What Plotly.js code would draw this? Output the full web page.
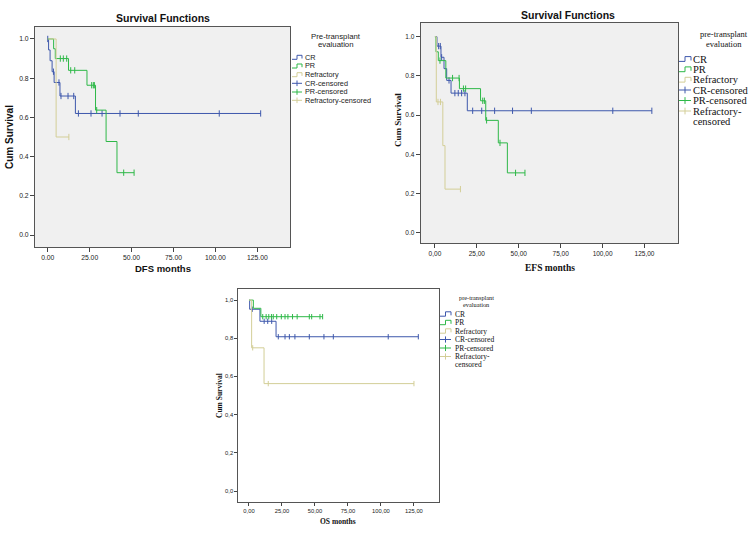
<!DOCTYPE html>
<html><head><meta charset="utf-8">
<script src="https://cdn.plot.ly/plotly-3.0.1.min.js"></script>
<style>html,body{margin:0;padding:0;background:#fff}#c{width:755px;height:533px}</style>
</head><body><div id="c"></div>
<script>
// ---------- DATA ----------
// DFS panel
const dfsCR_t = [0, 0.5, 1.4, 2.6, 3.8, 7.3, 16.5];
const dfsCR_s = [1, 0.944, 0.889, 0.833, 0.778, 0.709, 0.62];
const dfsCR_ct = [0, 3.4, 6.7, 7.9, 12.1, 15.5, 18.3, 25.8, 32.4, 43.1, 54.0, 102.3, 127.0];
const dfsCR_cs = [1, 0.833, 0.778, 0.709, 0.709, 0.709, 0.62, 0.62, 0.62, 0.62, 0.62, 0.62, 0.62];
const dfsPR_t = [0, 3.5, 4.5, 12.4, 23.4, 28.5, 34.8, 41.3];
const dfsPR_s = [1, 0.95, 0.90, 0.84, 0.764, 0.637, 0.477, 0.318];
const dfsPR_ct = [7.5, 9.3, 11.3, 13.7, 16.1, 26.2, 27.2, 27.8, 29.2, 45.3, 51.5];
const dfsPR_cs = [0.9, 0.9, 0.9, 0.84, 0.84, 0.764, 0.764, 0.764, 0.637, 0.318, 0.318];
const dfsRef_t = [0, 5.0];
const dfsRef_s = [1, 0.5];
const dfsRef_ct = [12.6];
const dfsRef_cs = [0.5];
// EFS panel
const efsCR_t = [0, 1.2, 3.6, 5.4, 7.0, 9.6, 19.3];
const efsCR_s = [1, 0.952, 0.895, 0.837, 0.777, 0.712, 0.622];
const efsCR_ct = [2.2, 3.2, 4.0, 8.4, 11.9, 13.9, 15.9, 17.9, 22.5, 27.9, 35.6, 46.3, 57.5, 106.1, 129.4];
const efsCR_cs = [0.952, 0.952, 0.895, 0.777, 0.712, 0.712, 0.712, 0.712, 0.622, 0.622, 0.622, 0.622, 0.622, 0.622, 0.622];
const efsPR_t = [0, 0.6, 2.0, 6.5, 14.6, 27.2, 30.3, 37.8, 43.2];
const efsPR_s = [1, 0.923, 0.878, 0.789, 0.735, 0.673, 0.573, 0.458, 0.305];
const efsPR_ct = [3.0, 10.5, 14.4, 17.0, 18.3, 28.5, 29.5, 30.8, 38.8, 48.1, 53.7];
const efsPR_cs = [0.878, 0.789, 0.789, 0.735, 0.735, 0.673, 0.673, 0.573, 0.458, 0.305, 0.305];
const efsRef_t = [0, 0.8, 4.7, 6.0];
const efsRef_s = [1, 0.667, 0.444, 0.222];
const efsRef_ct = [1.8, 3.3, 15.2];
const efsRef_cs = [0.667, 0.667, 0.222];
// OS panel
const osCR_t = [0, 0.5, 8.3, 20.5];
const osCR_s = [1, 0.952, 0.889, 0.808];
const osCR_ct = [2.5, 11.5, 14.2, 17.2, 22.2, 27.3, 30.6, 34.8, 45.7, 56.8, 63.9, 105.5, 128.3];
const osCR_cs = [0.952, 0.889, 0.889, 0.889, 0.808, 0.808, 0.808, 0.808, 0.808, 0.808, 0.808, 0.808, 0.808];
const osPR_t = [0, 3.3, 9.0];
const osPR_s = [1, 0.957, 0.913];
const osPR_ct = [10.4, 13.0, 15.0, 17.0, 18.4, 21.0, 24.5, 27.3, 29.5, 33.0, 36.5, 45.7, 47.5, 53.8, 55.8];
const osPR_cs = [0.913, 0.913, 0.913, 0.913, 0.913, 0.913, 0.913, 0.913, 0.913, 0.913, 0.913, 0.913, 0.913, 0.913, 0.913];
const osRef_t = [0, 2.0, 11.4];
const osRef_s = [1, 0.75, 0.5625];
const osRef_ct = [2.8, 14.6, 125.0];
const osRef_cs = [0.75, 0.5625, 0.5625];

// tick labels
const xTickVals = [0, 25, 50, 75, 100, 125];
const yTickVals = [0, 0.2, 0.4, 0.6, 0.8, 1.0];
const dfsXLabels = ['0.00', '25.00', '50.00', '75.00', '100.00', '125.00'];
const dfsYLabels = ['0.0', '0.2', '0.4', '0.6', '0.8', '1.0'];
const efsXLabels = ['0,00', '25,00', '50,00', '75,00', '100,00', '125,00'];
const efsYLabels = ['0.0', '0.2', '0.4', '0.6', '0.8', '1.0'];
const osXLabels = ['0,00', '25,00', '50,00', '75,00', '100,00', '125,00'];
const osYLabels = ['0,0', '0,2', '0,4', '0,6', '0,8', '1,0'];

const groups = ['CR', 'PR', 'Refractory'];
const legendLabels = ['CR', 'PR', 'Refractory', 'CR-censored', 'PR-censored', 'Refractory-censored'];

// ---------- STYLE ----------
const W = 755, H = 533;
const fx = p => p / W;
const fy = p => 1 - p / H;
const COLORS = ['rgb(62,88,172)', 'rgb(46,184,72)', 'rgb(211,206,151)'];
const SANS = 'Liberation Sans, Arial, sans-serif';
const SERIF = 'Liberation Serif, Times New Roman, serif';

const traces = [];
function addKM(t, s, ct, cs, color, xa, ya, msize) {
  const end = Math.max(t[t.length - 1], ...ct);
  const x = t.concat([end]);
  const y = s.concat([s[s.length - 1]]);
  traces.push({x: x, y: y, xaxis: xa, yaxis: ya, mode: 'lines', line: {shape: 'hv', color: color, width: 1}, showlegend: false, hoverinfo: 'skip'});
  traces.push({x: ct, y: cs, xaxis: xa, yaxis: ya, mode: 'markers', marker: {symbol: 'line-ns', size: msize, line: {color: color, width: 1}}, showlegend: false, hoverinfo: 'skip'});
}
addKM(dfsCR_t, dfsCR_s, dfsCR_ct, dfsCR_cs, COLORS[0], 'x', 'y', 4.5);
addKM(dfsPR_t, dfsPR_s, dfsPR_ct, dfsPR_cs, COLORS[1], 'x', 'y', 4.5);
addKM(dfsRef_t, dfsRef_s, dfsRef_ct, dfsRef_cs, COLORS[2], 'x', 'y', 4.5);
addKM(efsCR_t, efsCR_s, efsCR_ct, efsCR_cs, COLORS[0], 'x2', 'y2', 4.5);
addKM(efsPR_t, efsPR_s, efsPR_ct, efsPR_cs, COLORS[1], 'x2', 'y2', 4.5);
addKM(efsRef_t, efsRef_s, efsRef_ct, efsRef_cs, COLORS[2], 'x2', 'y2', 4.5);
addKM(osCR_t, osCR_s, osCR_ct, osCR_cs, COLORS[0], 'x3', 'y3', 3.8);
addKM(osPR_t, osPR_s, osPR_ct, osPR_cs, COLORS[1], 'x3', 'y3', 3.8);
addKM(osRef_t, osRef_s, osRef_ct, osRef_cs, COLORS[2], 'x3', 'y3', 3.8);

function xax(dom, rng, labels, anchor, fs, tl) {
  return {domain: dom, range: rng, anchor: anchor, tickvals: xTickVals, ticktext: labels, ticks: 'outside', ticklen: tl, tickcolor: '#444', tickwidth: 1,
    showline: true, mirror: true, linecolor: '#555', linewidth: 1, showgrid: false, zeroline: false, fixedrange: true,
    tickfont: {family: SANS, size: fs, color: '#222'}};
}
function yax(dom, rng, labels, anchor, fs, tl) {
  return {domain: dom, range: rng, anchor: anchor, tickvals: yTickVals, ticktext: labels, ticks: 'outside', ticklen: tl, tickcolor: '#444', tickwidth: 1,
    showline: true, mirror: true, linecolor: '#555', linewidth: 1, showgrid: false, zeroline: false, fixedrange: true,
    tickfont: {family: SANS, size: fs, color: '#222'}};
}

const annotations = [];
const shapes = [];
function txt(x, y, text, font, opts) {
  annotations.push(Object.assign({xref: 'paper', yref: 'paper', x: fx(x), y: fy(y), text: text, showarrow: false, font: font, xanchor: 'center', yanchor: 'middle'}, opts || {}));
}
// gray plot backgrounds for panels 1 and 2
['x', 'x2'].forEach((xa, i) => {
  shapes.push({type: 'rect', xref: xa + ' domain', yref: (i === 0 ? 'y' : 'y2') + ' domain', x0: 0, x1: 1, y0: 0, y1: 1, fillcolor: '#f0f0f0', line: {width: 0}, layer: 'below'});
});

function seg(x0, y0, x1, y1, color) {
  shapes.push({type: 'line', xref: 'paper', yref: 'paper', x0: fx(x0), y0: fy(y0), x1: fx(x1), y1: fy(y1), line: {color: color, width: 1}});
}
function stepIcon(x0, y, w, color) {
  const h = w * 0.2;
  seg(x0, y + h, x0 + w / 2, y + h, color);
  seg(x0 + w / 2, y + h, x0 + w / 2, y - h, color);
  seg(x0 + w / 2, y - h, x0 + w, y - h, color);
  seg(x0 + w, y - h, x0 + w, y + h * 0.6, color);
}
function censIcon(x0, y, w, color) {
  seg(x0, y, x0 + w, y, color);
  seg(x0 + w / 2, y - w * 0.28, x0 + w / 2, y + w * 0.28, color);
}
function legend(cfg) {
  txt(cfg.titleX, cfg.titleY[0], cfg.cap ? 'Pre-transplant' : 'pre-transplant', cfg.titleFont);
  txt(cfg.titleX, cfg.titleY[1], 'evaluation', cfg.titleFont);
  legendLabels.forEach((lab, i) => {
    const y = cfg.itemY[i];
    const color = COLORS[i % 3];
    if (i < 3) stepIcon(cfg.iconX, y, cfg.iconW, color); else censIcon(cfg.iconX, y, cfg.iconW, color);
    if (cfg.split && lab === 'Refractory-censored') {
      txt(cfg.textX, y, 'Refractory-', cfg.itemFont, {xanchor: 'left'});
      txt(cfg.textX, cfg.itemY[6], 'censored', cfg.itemFont, {xanchor: 'left'});
    } else {
      txt(cfg.textX, y, lab, cfg.itemFont, {xanchor: 'left'});
    }
  });
}

// Panel 1 texts
txt(163, 18, 'Survival Functions', {family: SANS, size: 10.5, color: '#111', weight: 'bold'});
txt(10, 137, 'Cum Survival', {family: SANS, size: 10, color: '#111', weight: 'bold'}, {textangle: -90});
txt(163, 268, 'DFS months', {family: SANS, size: 9.5, color: '#111', weight: 'bold'});
legend({cap: true, titleX: 336, titleY: [36.7, 45], itemY: [57.3, 66, 74.7, 83.3, 92, 100.3], iconX: 292, iconW: 10, textX: 303,
  titleFont: {family: SANS, size: 7.8, color: '#222'}, itemFont: {family: SANS, size: 7.3, color: '#222'}});

// Panel 2 texts
txt(568, 15, 'Survival Functions', {family: SANS, size: 10.5, color: '#111', weight: 'bold'});
txt(398, 120, 'Cum Survival', {family: SERIF, size: 9, color: '#111', weight: 'bold'}, {textangle: -90});
txt(550, 268, 'EFS months', {family: SERIF, size: 9.5, color: '#111', weight: 'bold'});
legend({cap: false, split: true, titleX: 724, titleY: [34, 44], itemY: [59, 69.3, 79.7, 90, 100.5, 111, 121.5], iconX: 679, iconW: 12, textX: 691,
  titleFont: {family: SERIF, size: 8.5, color: '#111'}, itemFont: {family: SERIF, size: 10.5, color: '#111'}});

// Panel 3 texts
txt(219, 396, 'Cum Survival', {family: SERIF, size: 7.5, color: '#111', weight: 'bold'}, {textangle: -90});
txt(338, 521, 'OS months', {family: SERIF, size: 7.5, color: '#111', weight: 'bold'});
legend({cap: false, split: true, titleX: 476, titleY: [297, 304], itemY: [314, 322.5, 331, 339.5, 348, 356.5, 364.5], iconX: 440, iconW: 11, textX: 453,
  titleFont: {family: SERIF, size: 6.3, color: '#111'}, itemFont: {family: SERIF, size: 7.5, color: '#111'}});

const layout = {
  width: W, height: H,
  margin: {l: 0, r: 0, t: 0, b: 0},
  paper_bgcolor: '#fff', plot_bgcolor: 'rgba(0,0,0,0)',
  showlegend: false,
  xaxis: xax([fx(35), fx(290)], [-7.6, 144.5], dfsXLabels, 'y', 6.8, 4),
  yaxis: yax([fy(247), fy(27)], [-0.061, 1.061], dfsYLabels, 'x', 6.8, 4),
  xaxis2: xax([fx(420.7), fx(678)], [-8.5, 145], efsXLabels, 'y2', 6.5, 4),
  yaxis2: yax([fy(243), fy(23)], [-0.053, 1.07], efsYLabels, 'x2', 6.5, 4),
  xaxis3: xax([fx(238.3), fx(439.3)], [-8.1, 144.2], osXLabels, 'y3', 5.8, 3),
  yaxis3: yax([fy(502.3), fy(289)], [-0.059, 1.058], osYLabels, 'x3', 5.8, 3),
  annotations: annotations,
  shapes: shapes
};
Plotly.newPlot('c', traces, layout, {staticPlot: true, displayModeBar: false});
</script></body></html>
